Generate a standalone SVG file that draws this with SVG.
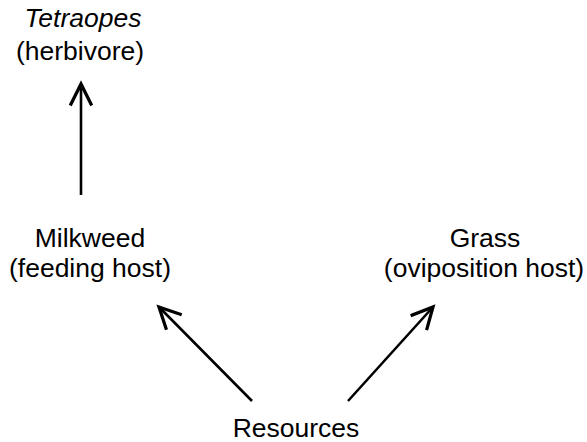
<svg xmlns="http://www.w3.org/2000/svg" width="587" height="442" viewBox="0 0 587 442">
<style>
text{font-family:"Liberation Sans",Arial,sans-serif;font-size:26.5px;fill:#000;text-anchor:middle}
.c line{stroke:#000;stroke-width:2.6;fill:none;marker-end:url(#ah)}
</style>
<defs>
<marker id="ah" markerUnits="userSpaceOnUse" markerWidth="30" markerHeight="30" viewBox="-20 -12 24 24" refX="0" refY="0" orient="auto">
<path d="M-16,-8 L0,0 L-16,8" fill="none" stroke="#000" stroke-width="2.6" stroke-linecap="square" stroke-linejoin="miter"/>
</marker>
</defs>
<rect width="587" height="442" fill="#fff"/>
<g id="tetraopes">
<text x="83" y="27" font-style="italic">Tetraopes</text>
<text x="80" y="60">(herbivore)</text>
</g>
<g id="milkweed">
<text x="90" y="247">Milkweed</text>
<text x="90" y="277">(feeding host)</text>
</g>
<g id="grass">
<text x="485" y="247">Grass</text>
<text x="484" y="277">(oviposition host)</text>
</g>
<g id="resources">
<text x="296" y="437">Resources</text>
</g>
<g class="c" id="connectors">
<line x1="81" y1="195" x2="81" y2="84"/>
<line x1="252" y1="401" x2="159" y2="307"/>
<line x1="348" y1="401" x2="433" y2="307"/>
</g>
</svg>
